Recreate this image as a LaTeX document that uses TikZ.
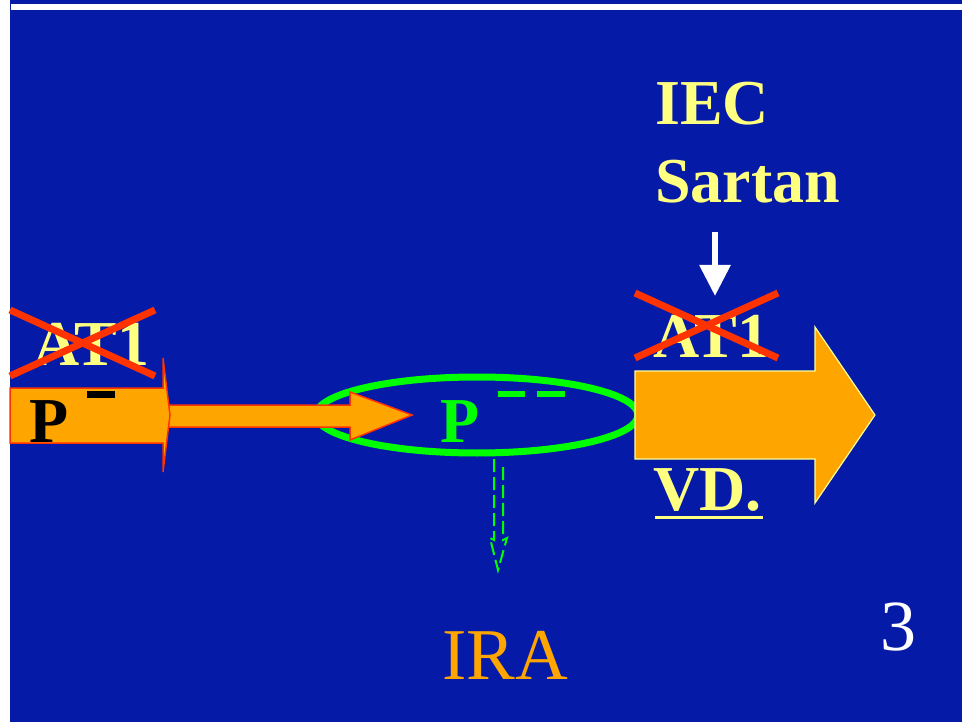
\documentclass[tikz,border=0pt]{standalone}
\usepackage{fontspec}
\setmainfont{Liberation Serif}
\usetikzlibrary{arrows.meta}
\definecolor{bgblue}{RGB}{6,26,168}
\definecolor{orng}{RGB}{255,165,0}
\definecolor{ylw}{RGB}{255,255,128}
\definecolor{xred}{RGB}{255,51,0}
\definecolor{gr}{RGB}{0,255,0}
\definecolor{lyel}{RGB}{255,255,153}
\tikzset{
  lbl/.style={inner sep=0pt, anchor=base west, font=\bfseries\fontsize{64}{70}\selectfont},
  ylbl/.style={lbl, text=ylw},
  cross/.style={draw=xred, line width=7pt},
  blockarrow/.style={fill=orng, draw=xred, line width=1.5pt, line join=miter},
}
\begin{document}
\begin{tikzpicture}[x=1pt,y=-1pt]
\useasboundingbox (0,0) rectangle (962,722);
\fill[white] (0,0) rectangle (962,722);
\fill[bgblue] (10,0) rectangle (962,722);
\fill[white] (11,4) rectangle (962,10);

% title texts
\node[ylbl] (iec) at (655,125) {IEC};
\node[ylbl] (sartan) at (655,203) {Sartan};
\coordinate (wa) at (715,232);
\coordinate (wb) at (715,296);
\draw[white, line width=6pt, -{Triangle[width=30pt,length=31pt]}] (wa) -- (wb);

% green ellipse
\draw[gr, line width=7pt] (477,415) ellipse [x radius=161, y radius=38];
\node[lbl, text=gr] (pg) at (440,442) {P};
\fill[gr] (498,391) rectangle (525,397);
\fill[gr] (537,391) rectangle (565,397);

% dashed hollow green arrow
\draw[gr, line width=2pt, dash pattern=on 13pt off 5pt, line join=miter]
  (494,459) -- (494,540) -- (490,538) -- (498,570) -- (507,538) -- (503,540) -- (503,466);

% thin orange arrow
\draw[blockarrow] (160,405) -- (350,405) -- (350,392) -- (412,415) -- (350,440) -- (350,427) -- (160,427);
\fill[orng] (158,406) rectangle (352,426);

% left arrow
\draw[blockarrow] (10,388) -- (163,388) -- (163,358) -- (170,415) -- (163,472) -- (163,443) -- (10,443) -- cycle;
\node[lbl, text=black] (pl) at (29,442) {P};
\fill[black] (87,391) rectangle (115,398);

% left AT1 crossed
\node[ylbl] (at1l) at (33,366) {AT1};
\draw[cross] (10,310) -- (155,376);
\draw[cross] (10,376) -- (155,310);

% right big arrow
\draw[fill=orng, draw=lyel, line width=1.2pt, line join=miter]
  (635,371) -- (815,371) -- (815,327) -- (875,415) -- (815,503) -- (815,459) -- (635,459) -- cycle;

% right AT1 crossed
\node[ylbl] (at1r) at (653,357) {AT1};
\draw[cross] (635,293) -- (778,358);
\draw[cross] (635,358) -- (778,293);

% VD.
\node[ylbl] (vd) at (653,510) {VD.};
\draw[ylw, line width=3pt] (655,517) -- (763,517);

% IRA and page number
\node[inner sep=0pt, anchor=base west, text=orng, font=\fontsize{73}{80}\selectfont] (ira) at (442,679) {IRA};
\node[inner sep=0pt, anchor=base west, text=white, font=\fontsize{72}{80}\selectfont] (num) at (880,650) {3};
\end{tikzpicture}
\end{document}
